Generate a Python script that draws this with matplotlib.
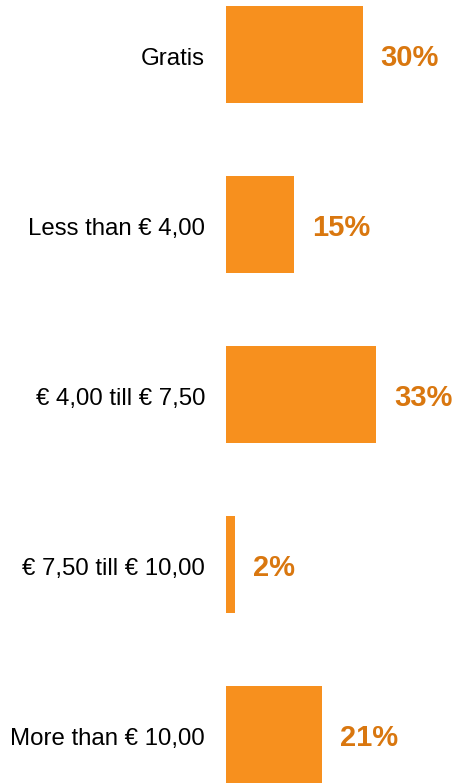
import matplotlib.pyplot as plt
from matplotlib.transforms import ScaledTranslation

categories = ['Gratis', 'Less than € 4,00', '€ 4,00 till € 7,50',
              '€ 7,50 till € 10,00', 'More than € 10,00']
values = [30, 15, 33, 2, 21]
value_labels = ['30%', '15%', '33%', '2%', '21%']

bar_color = '#F7901E'
label_color = '#D9770F'

plt.rcParams['font.family'] = ['Liberation Sans', 'DejaVu Sans']

fig = plt.figure(figsize=(4.54, 7.83), dpi=100)
ax = fig.add_axes([226 / 454, 0, 228 / 454, 1])

pos = list(range(len(categories)))
ax.barh(pos, values, height=0.576, color=bar_color)

for p, v, lab in zip(pos, values, value_labels):
    ax.annotate(lab, xy=(v, p), xytext=(13, -2.5), textcoords='offset points',
                ha='left', va='center', fontsize=21, fontweight='bold',
                color=label_color)

ax.set_xlim(0, 228 / 4.55)
ax.set_ylim(4.285, -0.3206)
ax.set_yticks(pos)
ax.set_yticklabels(categories, fontsize=17.3, color='black')
ax.tick_params(axis='y', length=0, pad=15)
# nudge the category labels down a touch
shift = ScaledTranslation(0, -1.5 / 72, fig.dpi_scale_trans)
for t in ax.get_yticklabels():
    t.set_transform(t.get_transform() + shift)
ax.set_xticks([])
for s in ax.spines.values():
    s.set_visible(False)

fig.savefig('out.png', dpi=100)
